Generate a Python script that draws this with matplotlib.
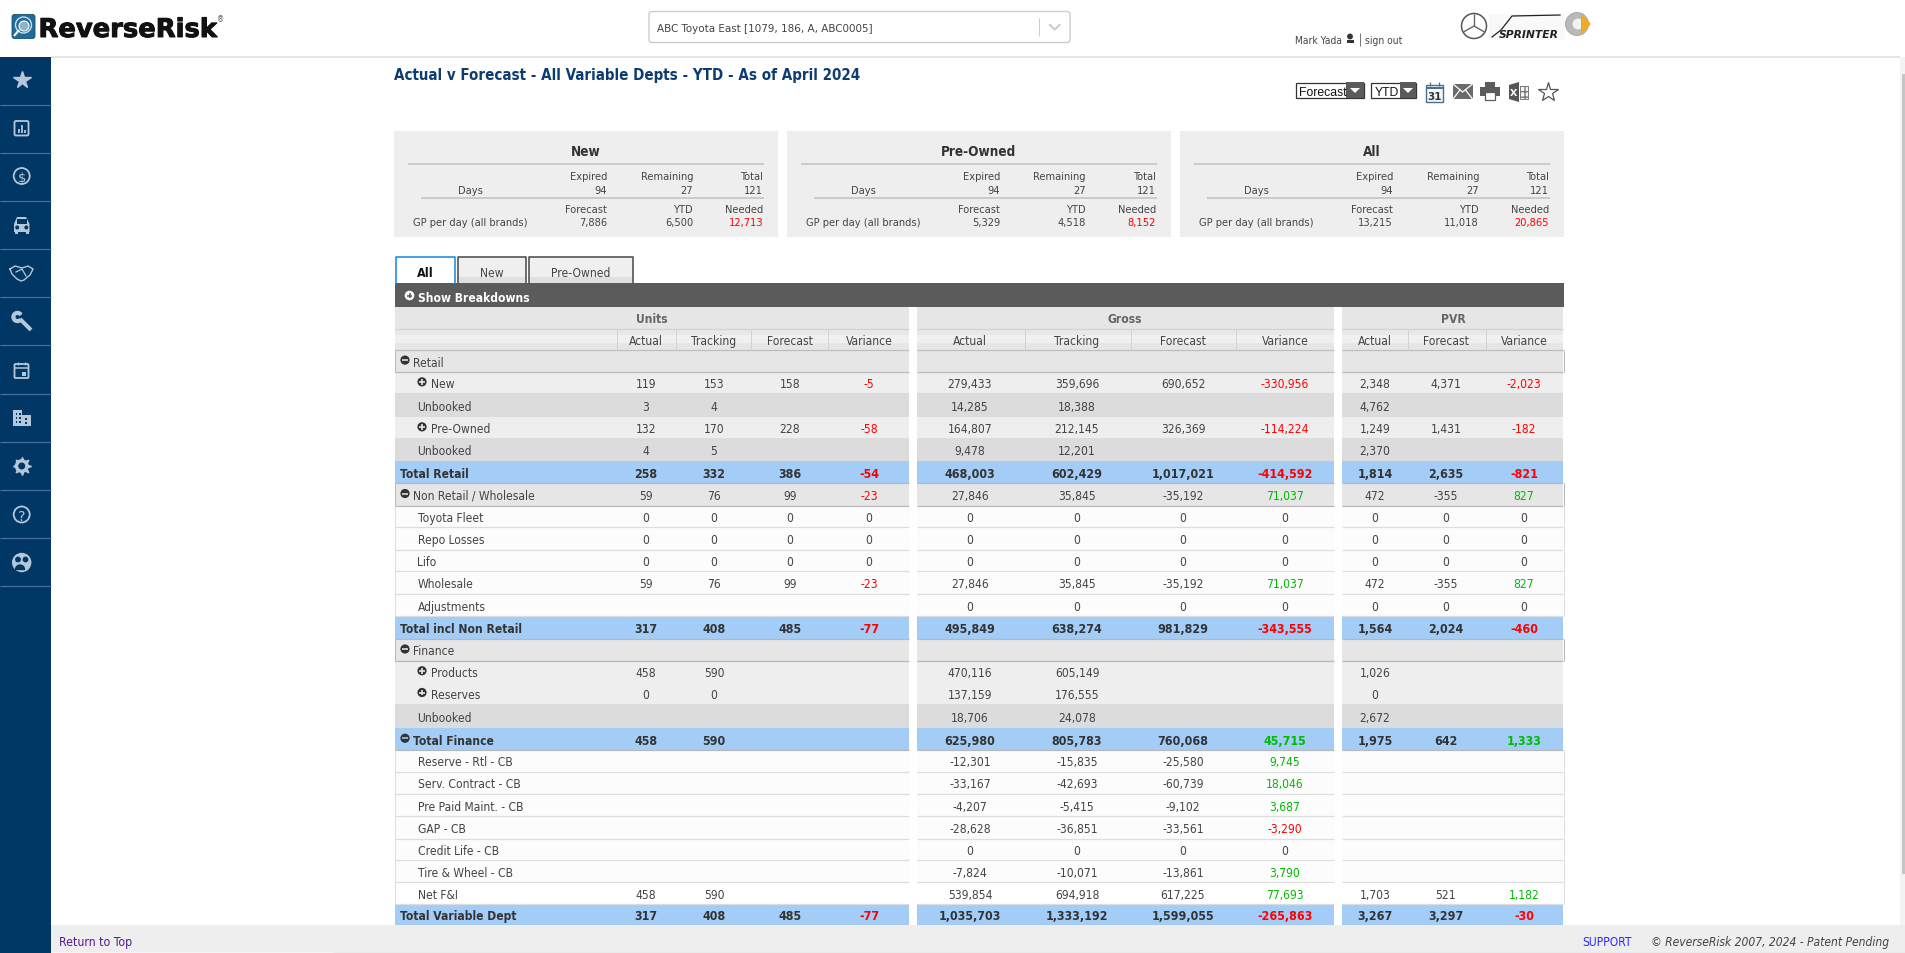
import matplotlib.pyplot as plt
import matplotlib.patheffects as path_effects
from matplotlib.patches import Rectangle, Circle, FancyBboxPatch, Polygon, Wedge


# page colours
navy = '#003765'
icon_blue = '#b5c8da'
card_grey = '#eeeeee'
dark_bar = '#5b5b5b'
text_dark = '#444444'
text_bold = '#333333'
red = '#ff0000'
green = '#00bb00'

row_colors = {'section': '#e6e6e6', 'sub': '#eeeeee', 'unbooked': '#dcdcdc', 'total': '#a3cdf7', 'plain': '#fcfcfc', 'net': '#ffffff'}

# {block_name: (left_edge, right_edge)}
blocks = {'Units': (395, 909), 'Gross': (917, 1334), 'PVR': (1342, 1563)}
block_label_x = {'Units': 652, 'Gross': 1125, 'PVR': 1453}
column_lines = {'Units': [617, 675.5, 751, 828], 'Gross': [1024.5, 1130.5, 1235.5], 'PVR': [1408, 1485.5]}
column_centers = {'Units': [646, 714, 790, 869], 'Gross': [970, 1077, 1183, 1285], 'PVR': [1375, 1446, 1524]}
column_names = {'Units': ['Actual', 'Tracking', 'Forecast', 'Variance'], 'Gross': ['Actual', 'Tracking', 'Forecast', 'Variance'], 'PVR': ['Actual', 'Forecast', 'Variance']}

row_edges = [350.5, 372.7, 394, 417.7, 439, 462, 483.5, 506.5, 528, 550.5, 572, 594.5, 617, 639.5, 661.5, 683, 705, 729, 750.5, 772.5, 794.5, 817, 839.5, 861, 883, 905, 926]

Z4 = ['0', '0', '0', '0']
Z3 = ['0', '0', '0']
B4 = ['', '', '', '']
B3 = ['', '', '']

# (label, kind, icon, units, gross, pvr)
table_rows = [
    ('Retail', 'section', 'minus', B4, B4, B3),
    ('New', 'sub', 'plus', ['119', '153', '158', '-5'], ['279,433', '359,696', '690,652', '-330,956'], ['2,348', '4,371', '-2,023']),
    ('Unbooked', 'unbooked', None, ['3', '4', '', ''], ['14,285', '18,388', '', ''], ['4,762', '', '']),
    ('Pre-Owned', 'sub', 'plus', ['132', '170', '228', '-58'], ['164,807', '212,145', '326,369', '-114,224'], ['1,249', '1,431', '-182']),
    ('Unbooked', 'unbooked', None, ['4', '5', '', ''], ['9,478', '12,201', '', ''], ['2,370', '', '']),
    ('Total Retail', 'total', None, ['258', '332', '386', '-54'], ['468,003', '602,429', '1,017,021', '-414,592'], ['1,814', '2,635', '-821']),
    ('Non Retail / Wholesale', 'section', 'minus', ['59', '76', '99', '-23'], ['27,846', '35,845', '-35,192', '71,037'], ['472', '-355', '827']),
    ('Toyota Fleet', 'plain', None, Z4, Z4, Z3),
    ('Repo Losses', 'plain', None, Z4, Z4, Z3),
    ('Lifo', 'plain', None, Z4, Z4, Z3),
    ('Wholesale', 'plain', None, ['59', '76', '99', '-23'], ['27,846', '35,845', '-35,192', '71,037'], ['472', '-355', '827']),
    ('Adjustments', 'plain', None, B4, Z4, Z3),
    ('Total incl Non Retail', 'total', None, ['317', '408', '485', '-77'], ['495,849', '638,274', '981,829', '-343,555'], ['1,564', '2,024', '-460']),
    ('Finance', 'section', 'minus', B4, B4, B3),
    ('Products', 'sub', 'plus', ['458', '590', '', ''], ['470,116', '605,149', '', ''], ['1,026', '', '']),
    ('Reserves', 'sub', 'plus', ['0', '0', '', ''], ['137,159', '176,555', '', ''], ['0', '', '']),
    ('Unbooked', 'unbooked', None, B4, ['18,706', '24,078', '', ''], ['2,672', '', '']),
    ('Total Finance', 'total', 'minus', ['458', '590', '', ''], ['625,980', '805,783', '760,068', '45,715'], ['1,975', '642', '1,333']),
    ('Reserve - Rtl - CB', 'plain', None, B4, ['-12,301', '-15,835', '-25,580', '9,745'], B3),
    ('Serv. Contract - CB', 'plain', None, B4, ['-33,167', '-42,693', '-60,739', '18,046'], B3),
    ('Pre Paid Maint. - CB', 'plain', None, B4, ['-4,207', '-5,415', '-9,102', '3,687'], B3),
    ('GAP - CB', 'plain', None, B4, ['-28,628', '-36,851', '-33,561', '-3,290'], B3),
    ('Credit Life - CB', 'plain', None, B4, Z4, B3),
    ('Tire & Wheel - CB', 'plain', None, B4, ['-7,824', '-10,071', '-13,861', '3,790'], B3),
    ('Net F&I', 'net', None, ['458', '590', '', ''], ['539,854', '694,918', '617,225', '77,693'], ['1,703', '521', '1,182']),
    ('Total Variable Dept', 'total', None, ['317', '408', '485', '-77'], ['1,035,703', '1,333,192', '1,599,055', '-265,863'], ['3,267', '3,297', '-30']),
]

# {card_title: (left_edge, right_edge, forecast, ytd, needed)}
cards = {'New': (394, 778, '7,886', '6,500', '12,713'), 'Pre-Owned': (787, 1171, '5,329', '4,518', '8,152'), 'All': (1180, 1564, '13,215', '11,018', '20,865')}


fig, ax = plt.subplots(figsize=(19.05, 9.54), dpi=100)
fig.subplots_adjust(left=0, right=1, bottom=0, top=1)
ax.set_xlim(0, 1905)
ax.set_ylim(954, 0)
ax.axis('off')


def txt(x, y, s, px=12, color=text_dark, ha='center', weight='normal', style='normal', family='DejaVu Sans', stretch='condensed', zorder=5):
    return ax.text(x, y, s, fontsize=px*0.72, color=color, ha=ha, va='center_baseline', fontweight=weight, fontstyle=style, family=family, stretch=stretch, zorder=zorder)

def box(x0, y0, x1, y1, color, zorder=1):
    ax.add_patch(Rectangle((x0, y0), x1-x0, y1-y0, facecolor=color, edgecolor='none', zorder=zorder))

def line(x0, y0, x1, y1, color, lw=1.0, zorder=3):
    ax.plot([x0, x1], [y0, y1], color=color, lw=lw*0.72, solid_capstyle='butt', zorder=zorder)

def toggle(x, y, kind, back, r=4.6):
    ax.add_patch(Circle((x, y), r, facecolor='#333333', edgecolor='none', zorder=6))
    line(x-2.8, y, x+2.8, y, back, 1.6, zorder=7)
    if kind == 'plus':
        line(x, y-2.8, x, y+2.8, back, 1.6, zorder=7)


# header
line(51, 57.5, 1900, 57.5, '#dddddd', 1.5)
ax.add_patch(FancyBboxPatch((12, 15.5), 23, 24, boxstyle='round,pad=0,rounding_size=2.5', facecolor='#1f6b9a', edgecolor='#14506f', lw=0.6, zorder=2))
ax.add_patch(Circle((23.5, 26), 8, facecolor='none', edgecolor='#cfe0ea', lw=1.0, zorder=3))
ax.add_patch(Circle((24, 27), 5, facecolor='#8fb3c8', edgecolor='#ffffff', lw=0.8, zorder=3))
line(19, 31, 14, 37, '#ffffff', 2.0, zorder=4)
logo = txt(38.5, 28, 'ReverseRisk', 25.8, '#111111', 'left', 'bold', stretch='normal')
logo.set_path_effects([path_effects.withStroke(linewidth=0.7, foreground='#111111')])
txt(221, 18.5, '®', 8, '#555555')

ax.add_patch(FancyBboxPatch((649, 12.5), 421, 31, boxstyle='round,pad=0,rounding_size=3', facecolor='white', edgecolor='#cccccc', lw=1.0, zorder=2))
txt(657, 28.3, 'ABC Toyota East [1079, 186, A, ABC0005]', 11.5, ha='left')
line(1038.5, 19, 1038.5, 36.5, '#cccccc')
ax.plot([1050, 1054.7, 1059.5], [26, 30.5, 26], color='#cccccc', lw=1.5, zorder=3)

txt(1295, 40, 'Mark Yada', 10.2, ha='left')
ax.add_patch(Circle((1350, 37.5), 2.2, color='#333333', zorder=3))
box(1346.5, 41, 1353.5, 43.5, '#333333', 3)
line(1359.5, 34, 1359.5, 47, '#777777')
txt(1365, 40, 'sign out', 10.2, ha='left')

ax.add_patch(Circle((1474, 27), 12.5, facecolor='none', edgecolor='#555555', lw=1.1, zorder=3))
for end in [(1474, 15), (1463.5, 33), (1484.5, 33)]:
    line(1474, 27, end[0], end[1], '#666666', 1.4)
box(1489, 15, 1565, 41, '#f9f9f9')
ax.plot([1492, 1501, 1512, 1560], [38, 31, 17, 16], color='#222222', lw=0.9, zorder=3)
txt(1529, 34.5, 'SPRINTER', 10.8, '#222222', weight='bold', style='italic', stretch='normal')
ax.add_patch(Circle((1577, 25), 11.5, facecolor='#b9b9b9', edgecolor='#999999', lw=0.5, zorder=3))
ax.add_patch(Circle((1578, 25), 5.5, facecolor='#f2f2f2', edgecolor='none', zorder=4))
ax.add_patch(Polygon([[1581, 14], [1591, 25], [1581, 36]], closed=True, facecolor='#f0aa2a', edgecolor='none', zorder=5))

# scrollbar
box(1900, 57.5, 1905, 926, '#f4f4f4')
box(1902, 75, 1905, 875, '#c6c6c6', 2)


# sidebar
box(0, 57.5, 51, 954, navy, 8)
side_lines = [105.5, 153.5, 201.5, 250, 298, 346, 394.5, 443, 491, 539, 587]
for y in side_lines:
    line(0, y, 51, y, '#4c7196', 1.2, zorder=9)

c = icon_blue
ax.plot(21.7, 81, marker='*', ms=13, color=c, mec=c, zorder=9)
ax.add_patch(FancyBboxPatch((14.5, 122), 14, 14.5, boxstyle='round,pad=0,rounding_size=1.5', facecolor='none', edgecolor=c, lw=1.3, zorder=9))
for x, h in [(18.5, 4), (21.7, 8), (25, 2.5)]:
    line(x, 133.5, x, 133.5-h, c, 1.8, zorder=9)
ax.add_patch(Circle((21.7, 177), 8, facecolor='none', edgecolor=c, lw=1.3, zorder=9))
txt(21.7, 177, '$', 13, c, stretch='normal', zorder=9)
ax.add_patch(Polygon([[14, 233], [14, 225], [17, 218], [26, 218], [29.5, 225], [29.5, 233]], closed=True, facecolor=c, edgecolor='none', zorder=9))
box(17, 220, 26.5, 225, navy, 10)
box(15, 233, 18, 234.5, c, 9)
box(25.5, 233, 28.5, 234.5, c, 9)
ax.add_patch(Circle((17.2, 228.5), 1.3, color=navy, zorder=10))
ax.add_patch(Circle((26.3, 228.5), 1.3, color=navy, zorder=10))
ax.plot([10, 15, 22, 28, 33, 30, 24, 21, 17, 12, 10], [270, 267, 269, 267, 270, 276, 281, 282, 280, 275, 270], color=c, lw=1.0, zorder=9)
ax.plot([16, 22, 26], [273, 270, 277], color=c, lw=0.9, zorder=9)
line(20, 320, 31, 331, c, 4.0, zorder=9)
ax.add_patch(Wedge((17.5, 318), 5.5, 50, 320, width=2.8, color=c, zorder=9))
ax.add_patch(FancyBboxPatch((14.5, 365), 14, 14, boxstyle='round,pad=0,rounding_size=1', facecolor='none', edgecolor=c, lw=1.3, zorder=9))
line(14.5, 368.5, 28.5, 368.5, c, 1.5, zorder=9)
line(18, 362.5, 18, 366, c, 1.3, zorder=9)
line(25, 362.5, 25, 366, c, 1.3, zorder=9)
box(22, 372.5, 26, 376.5, c, 9)
box(13, 411, 22, 427, c, 9)
box(22, 415.5, 31, 427, c, 9)
for x in [15.5, 19]:
    for y in [414, 418, 422]:
        box(x, y, x+1.6, y+1.6, navy, 10)
for y in [419, 423]:
    box(25, y, 27, y+1.6, navy, 10)
ax.plot(21.7, 467, marker=(8, 1, 0), ms=13, color=c, mec=c, zorder=9)
ax.add_patch(Circle((21.7, 467), 6.2, color=c, zorder=9))
ax.add_patch(Circle((21.7, 467), 2.8, color=navy, zorder=10))
ax.add_patch(Circle((21.7, 515.5), 8, facecolor='none', edgecolor=c, lw=1.3, zorder=9))
txt(21.7, 515.5, '?', 14, c, stretch='normal', zorder=9)
ax.add_patch(Circle((21.7, 563.5), 9, color=c, zorder=9))
ax.add_patch(Circle((18, 560.5), 2.2, color=navy, zorder=10))
ax.add_patch(Circle((25.5, 560.5), 2.2, color=navy, zorder=10))
ax.add_patch(Wedge((20, 570.5), 4.5, 180, 360, color=navy, zorder=10))


# title and toolbar
txt(394, 73.7, 'Actual v Forecast - All Variable Depts - YTD - As of April 2024', 15, '#0c3c70', 'left', 'bold')

for x0, x1, xd, label in [(1295.5, 1364, 1346, 'Forecast'), (1370.5, 1416, 1400, 'YTD')]:
    ax.add_patch(Rectangle((x0, 83.5), x1-x0, 15, facecolor='white', edgecolor='#333333', lw=0.9, zorder=2))
    box(xd, 83, x1, 99, dark_bar, 3)
    ax.add_patch(Polygon([[(xd+x1)/2-5, 89], [(xd+x1)/2+5, 89], [(xd+x1)/2, 94]], closed=True, facecolor='white', edgecolor='none', zorder=4))
    txt(x0+4, 91, label, 12.3, '#111111', 'left', family='Liberation Sans', stretch='normal')

ax.add_patch(Rectangle((1426, 86), 16.5, 16.5, facecolor='#f4f8fb', edgecolor='#4a6f8c', lw=1.0, zorder=3))
line(1426, 89, 1442.5, 89, '#4a6f8c', 2)
line(1430, 83, 1430, 87, '#4a6f8c', 1.2)
line(1438.5, 83, 1438.5, 87, '#4a6f8c', 1.2)
txt(1434.2, 96, '31', 11.5, '#333333', weight='bold', zorder=6)
box(1453, 85, 1472.5, 100, '#6a6a6a', 3)
ax.plot([1453, 1462.7, 1472.5], [85, 93, 85], color='white', lw=0.9, zorder=4)
ax.plot([1453, 1460, None, 1472.5, 1465.5], [100, 91, None, 100, 91], color='white', lw=0.9, zorder=4)
box(1485, 83, 1495, 89, dark_bar, 3)
box(1480, 88, 1500, 97, dark_bar, 3)
box(1485, 93, 1495, 101, 'white', 4)
ax.add_patch(Rectangle((1485, 93), 10, 8, facecolor='white', edgecolor=dark_bar, lw=0.9, zorder=4))
ax.add_patch(Polygon([[1509, 86], [1519, 83], [1519, 103], [1509, 100]], closed=True, facecolor='#555555', edgecolor='none', zorder=3))
txt(1514, 93, 'X', 9.5, 'white', weight='bold', stretch='normal')
ax.add_patch(Rectangle((1520, 87), 8, 13, facecolor='#f4f4f4', edgecolor='#777777', lw=0.7, hatch='+++', zorder=3))
ax.plot(1547.5, 92.5, marker='*', ms=15, mfc='white', mec='#555555', mew=0.9, zorder=3)


# summary cards
for title, (left, right, forecast, ytd, needed) in cards.items():
    offset = left - 394
    box(left, 132, right, 237.7, card_grey)
    txt(586+offset, 151, title, 13.5, text_bold, weight='bold')
    line(408+offset, 165, 764+offset, 165, '#c8c8c8', 1.8)
    line(421+offset, 198.7, 764+offset, 198.7, '#c8c8c8', 1.8)
    txt(470.5+offset, 189.7, 'Days', 11)
    txt(470.5+offset, 221.7, 'GP per day (all brands)', 11)
    columns = [(607, 'Expired', '94', 'Forecast', forecast, text_dark), (693, 'Remaining', '27', 'YTD', ytd, text_dark), (763, 'Total', '121', 'Needed', needed, red)]
    for x, top, days, head, value, value_color in columns:
        txt(x+offset, 175.7, top, 11, ha='right')
        txt(x+offset, 189.7, days, 11, ha='right')
        txt(x+offset, 208.7, head, 11, ha='right')
        txt(x+offset, 221.7, value, 11, color=value_color, ha='right')


# tabs
box(395.5, 258, 454.5, 284, 'white')
ax.plot([395.5, 395.5, 454.5, 454.5], [284, 257.5, 257.5, 284], color='#1e90e8', lw=1.2, zorder=3)
txt(425, 272, 'All', 12.5, '#111111', weight='bold')
for x0, x1, label in [(458, 525.5, 'New'), (528.5, 633, 'Pre-Owned')]:
    box(x0, 258, x1, 278, '#efefef')
    box(x0, 278, x1, 284, '#e0e0e0')
    ax.plot([x0, x0, x1, x1], [284, 257.5, 257.5, 284], color='#555555', lw=1.2, zorder=3)
    txt((x0+x1)/2, 272, label, 12)

box(395, 284, 1564, 308, dark_bar, 2)
ax.add_patch(Circle((409.5, 296.5), 4.8, facecolor='white', edgecolor='none', zorder=6))
line(407, 296.5, 412, 296.5, dark_bar, 1.6, zorder=7)
line(409.5, 294, 409.5, 299, dark_bar, 1.6, zorder=7)
txt(418, 297, 'Show Breakdowns', 12, 'white', 'left', 'bold')


# table headers
for name, (left, right) in blocks.items():
    box(left, 308, right, 329.5, '#e6e6e6')
    txt(block_label_x[name], 318, name, 12, '#666666', weight='bold')
    box(left, 329.5, right, 336, '#e8e8e8')
    box(left, 336, right, 344, '#f0f0f0')
    box(left, 344, right, 350.5, '#e6e6e6')
    line(left, 329.5, right, 329.5, '#d2d2d2', 1.2)
    line(left, 350.5, right, 350.5, '#bdbdbd', 1.2)
    for x in column_lines[name]:
        line(x, 329.5, x, 350.5, '#d2d2d2', 1.0)
    for x, label in zip(column_centers[name], column_names[name]):
        txt(x, 340, label, 12)


# table body
for i, (label, kind, icon, units, gross, pvr) in enumerate(table_rows):
    y0, y1 = row_edges[i], row_edges[i+1]
    yc = (y0+y1)/2
    bold = kind == 'total'
    weight = 'bold' if bold else 'normal'
    back = row_colors[kind]
    for name, (left, right) in blocks.items():
        box(left, y0, right, y1, back)
        if kind in ('plain', 'net'):
            line(left, y1, right, y1, '#dddddd', 1.2)
        if kind in ('section', 'total'):
            line(left, y1, right, y1, '#b8b8b8', 1.2)
    if kind in ('plain', 'net'):
        line(394.5, y0, 394.5, y1, '#dddddd', 1.0)
        line(1563.5, y0, 1563.5, y1, '#dddddd', 1.0)
    if kind == 'section':
        line(394.5, y0, 394.5, y1, '#b8b8b8', 1.0)
        line(1563.5, y0, 1563.5, y1, '#b8b8b8', 1.0)

    if kind in ('section', 'total') and icon:
        toggle(405, yc-0.5, 'minus', back)
        txt(412.7, yc, label, 12, text_bold if bold else text_dark, 'left', weight)
    elif kind == 'total':
        txt(399.5, yc, label, 12, text_bold, 'left', 'bold')
    elif icon:
        toggle(422, yc-0.5, icon, back)
        txt(431, yc, label, 12, ha='left')
    else:
        txt(417.5, yc, label, 12, ha='left')

    for name, values in [('Units', units), ('Gross', gross), ('PVR', pvr)]:
        for j, (x, value) in enumerate(zip(column_centers[name], values)):
            color = text_bold if bold else text_dark
            if j == len(values)-1 and value not in ('', '0'):
                color = red if value.startswith('-') else green  # variance column
            txt(x, yc, value, 12.4 if bold else 12, color, weight=weight)


# footer
box(51, 926, 1905, 953, card_grey, 6)
line(45, 953.5, 333, 953.5, '#999999', 1.2, zorder=7)
line(333, 953.5, 1905, 953.5, '#333333', 1.2, zorder=7)
txt(59, 941, 'Return to Top', 12.3, '#551a8b', 'left', zorder=7)
txt(1582, 941, 'SUPPORT', 12, '#2a2aff', 'left', zorder=7)
txt(1651, 941, '© ReverseRisk 2007, 2024 - Patent Pending', 12, '#444444', 'left', style='italic', zorder=7)


# plt.show()
plt.savefig('out.png', dpi=100)
